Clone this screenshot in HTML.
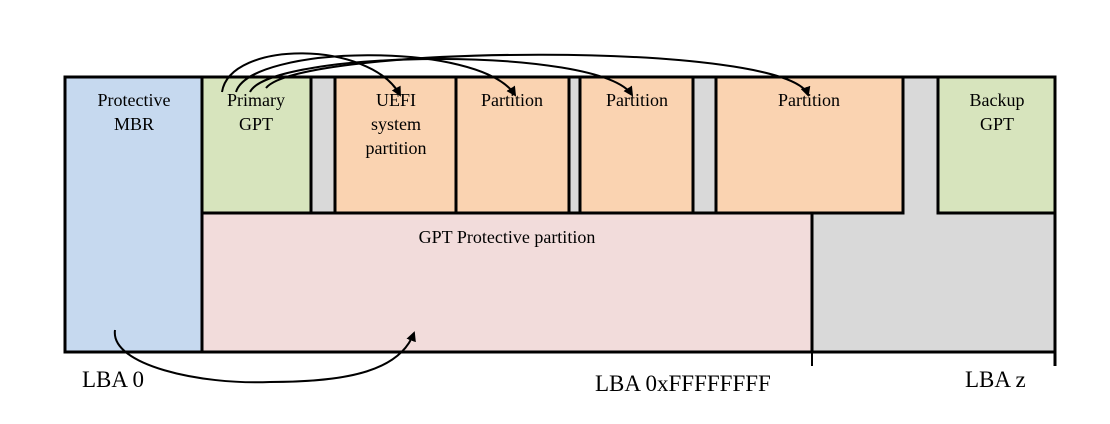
<!DOCTYPE html>
<html><head><style>
body{margin:0;background:#fff;width:1110px;height:419px;overflow:hidden}
svg text{font-family:"Liberation Serif",serif}
</style></head><body>
<svg width="1110" height="419" viewBox="0 0 1110 419">
<defs><marker id="a" markerWidth="10" markerHeight="10" refX="8" refY="5" orient="auto" markerUnits="userSpaceOnUse"><path d="M0,0 L10,5 L0,10 z" fill="#000"/></marker></defs>
<path d="M812,213 L903,213 L903,77 L938,77 L938,213 L1055,213 L1055,352 L812,352 z" fill="#d9d9d9"/>
<g stroke="#000" stroke-width="3">
<rect x="65" y="77" width="137" height="275" fill="#c6d9ef"/>
<rect x="202" y="213" width="610" height="139" fill="#f2dcdb"/>
<rect x="202" y="77" width="109" height="136" fill="#d7e4bd"/>
<rect x="311" y="77" width="24" height="136" fill="#d9d9d9"/>
<rect x="335" y="77" width="121" height="136" fill="#fad3b1"/>
<rect x="456" y="77" width="113" height="136" fill="#fad3b1"/>
<rect x="569" y="77" width="11" height="136" fill="#d9d9d9"/>
<rect x="580" y="77" width="113" height="136" fill="#fad3b1"/>
<rect x="693" y="77" width="23" height="136" fill="#d9d9d9"/>
<rect x="716" y="77" width="187" height="136" fill="#fad3b1"/>
<rect x="938" y="77" width="117" height="136" fill="#d7e4bd"/>
<line x1="903" y1="77" x2="938" y2="77"/>
<line x1="1055" y1="213" x2="1055" y2="366"/>
<line x1="812" y1="352" x2="1055" y2="352"/>
</g>
<line x1="812" y1="213" x2="812" y2="366" stroke="#000" stroke-width="2"/>
<g font-size="18" text-anchor="middle" fill="#000">
<text x="134" y="106">Protective</text><text x="134" y="130">MBR</text>
<text x="256" y="106">Primary</text><text x="256" y="130">GPT</text>
<text x="396" y="106">UEFI</text><text x="396" y="130">system</text><text x="396" y="154">partition</text>
<text x="512" y="106">Partition</text>
<text x="637" y="106">Partition</text>
<text x="809" y="106">Partition</text>
<text x="997" y="106">Backup</text><text x="997" y="130">GPT</text>
<text x="507" y="243">GPT Protective partition</text>
</g>
<g font-size="23" fill="#000">
<text x="82" y="387">LBA 0</text>
<text x="595" y="391">LBA 0xFFFFFFFF</text>
<text x="965" y="387">LBA z</text>
</g>
<g fill="none" stroke="#000" stroke-width="2" marker-end="url(#a)">
<path d="M222,92 C230,40 370,40 400,95"/>
<path d="M236,92 C250,45 480,40 515,95"/>
<path d="M250,92 C270,50 600,45 632,95"/>
<path d="M266,88 C300,45 790,40 808,95"/>
<path d="M115,330 C110,365 200,385 270,382 C350,382 400,370 414,333"/>
</g>
</svg>
</body></html>
